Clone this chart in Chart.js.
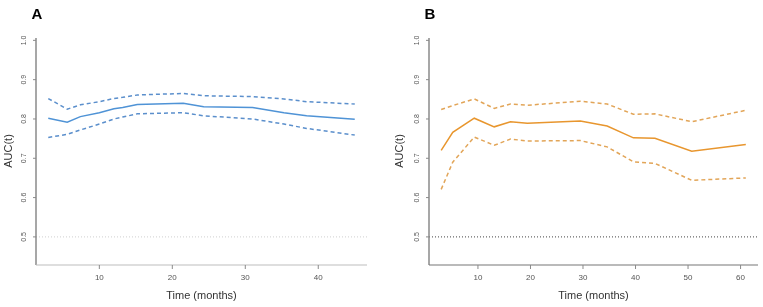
<!DOCTYPE html>
<html>
<head>
<meta charset="utf-8">
<script src="https://cdn.jsdelivr.net/npm/chart.js@4/dist/chart.umd.min.js"></script>
<style>
  body { margin: 0; background: #fff; }
  #wrap { position: relative; width: 763px; height: 307px; }
  canvas { position: absolute; top: 0; }
</style>
</head>
<body>
<div id="wrap">
  <canvas id="painelA" width="380" height="307" style="left:0"></canvas>
  <canvas id="painelB" width="383" height="307" style="left:380px"></canvas>
</div>
<script>
// dados painel A (tempo em meses)
const tempoA = [3, 5.6, 7.4, 10, 12, 13.2, 15.2, 21.5, 24.3, 31, 35.3, 38.4, 45];
const aucA   = [0.802, 0.792, 0.806, 0.816, 0.826, 0.829, 0.837, 0.840, 0.831, 0.829, 0.816, 0.808, 0.799];
const supA   = [0.852, 0.825, 0.836, 0.844, 0.852, 0.855, 0.861, 0.865, 0.859, 0.857, 0.851, 0.844, 0.838];
const infA   = [0.753, 0.761, 0.772, 0.787, 0.800, 0.805, 0.813, 0.816, 0.808, 0.800, 0.787, 0.776, 0.759];

// dados painel B
const tempoB = [3, 5.2, 9.3, 13.1, 16.2, 19.4, 29.5, 34.6, 39.6, 43.7, 50.7, 61];
const aucB   = [0.720, 0.766, 0.802, 0.780, 0.793, 0.789, 0.795, 0.782, 0.752, 0.751, 0.718, 0.735];
const supB   = [0.824, 0.834, 0.851, 0.827, 0.838, 0.835, 0.845, 0.838, 0.812, 0.813, 0.793, 0.822];
const infB   = [0.621, 0.690, 0.754, 0.733, 0.749, 0.744, 0.745, 0.729, 0.691, 0.687, 0.644, 0.650];

const ticksY = [0.5, 0.6, 0.7, 0.8, 0.9, 1.0];
const ticksXA = [10, 20, 30, 40];
const ticksXB = [10, 20, 30, 40, 50, 60];
const linhaRef = 0.5;

function pontos(t, v) {
  return t.map((x, i) => ({ x: x, y: v[i] }));
}

// plugin que desenha eixos estilo R
const eixosR = {
  id: 'eixosR',
  afterDraw(chart, args, opts) {
    const ctx = chart.ctx;
    const a = chart.chartArea;
    const sx = chart.scales.x, sy = chart.scales.y;
    ctx.save();
    // eixo y
    ctx.strokeStyle = '#8a8a8a';
    ctx.lineWidth = 1.5;
    ctx.beginPath();
    ctx.moveTo(a.left, a.top);
    ctx.lineTo(a.left, a.bottom);
    ctx.stroke();
    ctx.strokeStyle = opts.corEixoX;
    ctx.lineWidth = 1.2;
    ctx.beginPath();
    ctx.moveTo(a.left, a.bottom);
    ctx.lineTo(a.right, a.bottom);
    ctx.stroke();

    ctx.fillStyle = '#555';
    ctx.font = '7px "Liberation Sans", Arial, sans-serif';
    ctx.textAlign = 'center';
    ctx.textBaseline = 'middle';
    ctx.strokeStyle = '#8a8a8a';
    ctx.lineWidth = 1;
    ticksY.forEach(v => {
      const y = sy.getPixelForValue(v);
      ctx.beginPath();
      ctx.moveTo(a.left - 3, y);
      ctx.lineTo(a.left, y);
      ctx.stroke();
      ctx.save();
      ctx.translate(a.left - 12, y);
      ctx.rotate(-Math.PI / 2);
      ctx.fillText(v.toFixed(1), 0, 0);
      ctx.restore();
    });
    ctx.font = '8px "Liberation Sans", Arial, sans-serif';
    opts.ticksX.forEach(v => {
      const x = sx.getPixelForValue(v);
      ctx.beginPath();
      ctx.moveTo(x, a.bottom);
      ctx.lineTo(x, a.bottom + 4);
      ctx.stroke();
      ctx.fillText(String(v), x, a.bottom + 13);
    });

    // titulos
    ctx.fillStyle = '#333';
    ctx.font = '11px "Liberation Sans", Arial, sans-serif';
    ctx.fillText('Time (months)', (a.left + a.right) / 2 + opts.dxTitulo, 296);
    ctx.save();
    ctx.translate(opts.xAuc, 151);
    ctx.rotate(-Math.PI / 2);
    ctx.fillText('AUC(t)', 0, 0);
    ctx.restore();

    ctx.fillStyle = '#000';
    ctx.font = 'bold 15px "Liberation Sans", Arial, sans-serif';
    ctx.fillText(opts.letra, opts.xLetra, 15);
    ctx.restore();
  }
};

function criarPainel(id, tempo, auc, sup, inf, cfg) {
  const dados = {
    datasets: [
      {
        data: [{ x: cfg.xMin, y: linhaRef }, { x: cfg.xMax, y: linhaRef }],
        borderColor: cfg.corRef,
        borderWidth: 1,
        borderDash: [1, 2],
        pointRadius: 0
      },
      {
        data: pontos(tempo, sup),
        borderColor: cfg.corIC,
        borderWidth: 1.5,
        borderDash: [4, 3],
        pointRadius: 0
      },
      {
        data: pontos(tempo, inf),
        borderColor: cfg.corIC,
        borderWidth: 1.5,
        borderDash: [4, 3],
        pointRadius: 0
      },
      {
        data: pontos(tempo, auc),
        borderColor: cfg.cor,
        borderWidth: 1.5,
        pointRadius: 0
      }
    ]
  };

  return new Chart(document.getElementById(id), {
    type: 'line',
    data: dados,
    options: {
      responsive: false,
      animation: false,
      layout: { padding: cfg.padding },
      plugins: {
        legend: { display: false },
        tooltip: { enabled: false },
        eixosR: cfg.eixos
      },
      scales: {
        x: { type: 'linear', min: cfg.xMin, max: cfg.xMax, display: false },
        y: { min: 0.4285, max: 1.006, display: false }
      }
    },
    plugins: [eixosR]
  });
}

criarPainel('painelA', tempoA, aucA, supA, infA, {
  xMin: 1.32, xMax: 46.68,
  cor: '#4f93d6', corIC: '#5b8fcc', corRef: '#cfcfcf',
  padding: { left: 36, right: 13, top: 38, bottom: 42 },
  eixos: { ticksX: ticksXA, letra: 'A', xLetra: 37, xAuc: 9, dxTitulo: 0, corEixoX: '#bdbdbd' }
});

criarPainel('painelB', tempoB, aucB, supB, infB, {
  xMin: 0.68, xMax: 63.32,
  cor: '#e8962e', corIC: '#e2a558', corRef: '#444',
  padding: { left: 49, right: 5, top: 38, bottom: 42 },
  eixos: { ticksX: ticksXB, letra: 'B', xLetra: 50, xAuc: 20, dxTitulo: 0, corEixoX: '#777' }
});
</script>
</body>
</html>
